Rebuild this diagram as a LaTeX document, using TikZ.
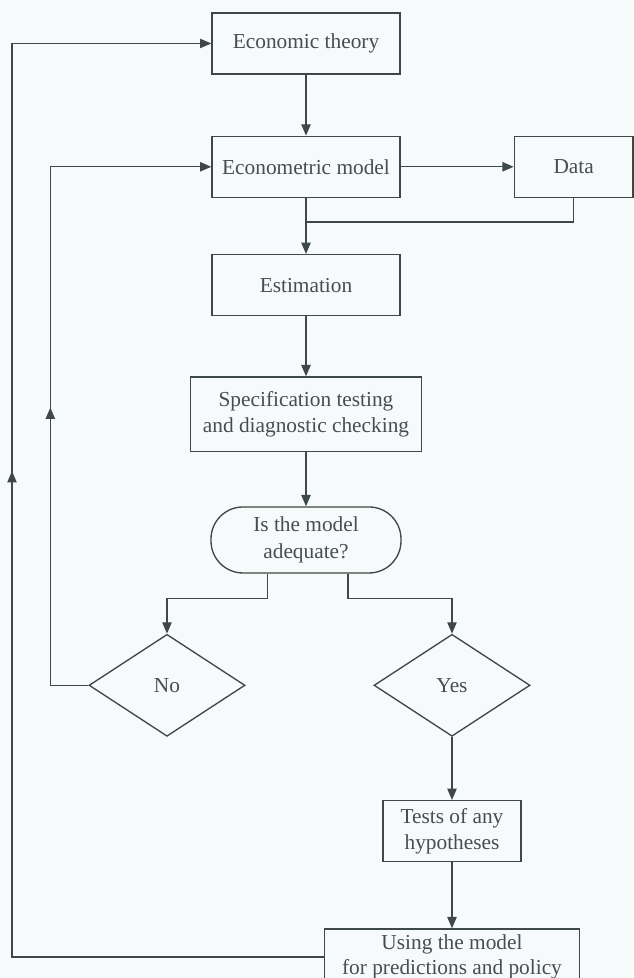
\documentclass[tikz,border=0pt]{standalone}
\usepackage{fontspec}
\setmainfont{Liberation Serif}
\usetikzlibrary{positioning, shapes.geometric, arrows.meta, decorations.markings}
\definecolor{inkgray}{RGB}{62,72,70}
\definecolor{textgray}{RGB}{70,78,78}
\definecolor{paper}{RGB}{247,250,250}

\begin{document}
\begin{tikzpicture}[
      node distance=45pt,
      font=\fontsize{16}{20}\selectfont,
      block/.style={rectangle, draw=inkgray, text=textgray, align=center,
      minimum width=141pt, minimum height=45.75pt, line width=1pt},
      decide/.style={rectangle, rounded corners=24pt, draw=inkgray, text=textgray,
      align=center, minimum width=142.5pt, minimum height=49.5pt, line width=1pt},
      answer/.style={diamond, draw=inkgray, text=textgray, inner sep=0pt,
      minimum width=117pt, minimum height=76.5pt, line width=1pt},
      line/.style={draw=inkgray, -{Triangle[length=8.5pt, width=7pt]}, line width=1pt},
      link/.style={draw=inkgray, line width=1pt},
      midarrow/.style={postaction={decorate}, decoration={markings,
      mark=at position #1 with {\arrow{Triangle[length=8.5pt, width=7pt]}}}}
    ]
    % Page
    \fill [paper] (0,0) rectangle (474.75pt,-733.5pt);
    \useasboundingbox (0,0) rectangle (474.75pt,-733.5pt);

    % Nodes
    \node [block] (theory) at (229.5pt,-32.6pt) {Economic theory};
    \node [block, below=45.75pt of theory] (model) {Econometric model};
    \node [block, right=84.75pt of model, minimum width=89pt] (data) {Data};
    \node [block, below=42pt of model] (estim) {Estimation};
    \node [block, below=45pt of estim, minimum width=173pt,
      minimum height=56pt] (spec) {Specification testing\\and diagnostic checking};
    \node [decide, below=40.5pt of spec] (adequate) {Is the model\\adequate?};
    \node [answer, below=45pt of adequate, xshift=-104.25pt] (no) {No};
    \node [answer, below=45pt of adequate, xshift=109.5pt] (yes) {Yes};
    \node [block, below=47.25pt of yes, minimum width=103.5pt]
      (tests) {Tests of any\\hypotheses};
    \node [block, below=49.5pt of tests, minimum width=191pt, minimum height=42pt,
      inner ysep=1.5pt, font=\fontsize{16}{19}\selectfont]
      (using) {Using the model\\for predictions and policy};
    \coordinate [below=18pt of model.south] (join);

    % Paths
    \path [line] (theory) -- (model);
    \path [line] (model) -- (data);
    \path [line] (model) -- (estim);
    \path [link] (data.south) |- (join);
    \path [line] (estim) -- (spec);
    \path [line] (spec) -- (adequate);
    \path [line] ([xshift=-29pt]adequate.south) -- ++(0,-18.75pt) -| (no);
    \path [line] ([xshift=31.5pt]adequate.south) -- ++(0,-18.75pt) -| (yes);
    \path [line] (yes) -- (tests);
    \path [line] (tests) -- (using);
    \path [line, midarrow=0.44] (no.west) -- ++(-28.5pt,0) |- (model.west);
    \path [line, midarrow=0.56] (using.west) -- ++(-234pt,0) |- (theory.west);
  \end{tikzpicture}
\end{document}
